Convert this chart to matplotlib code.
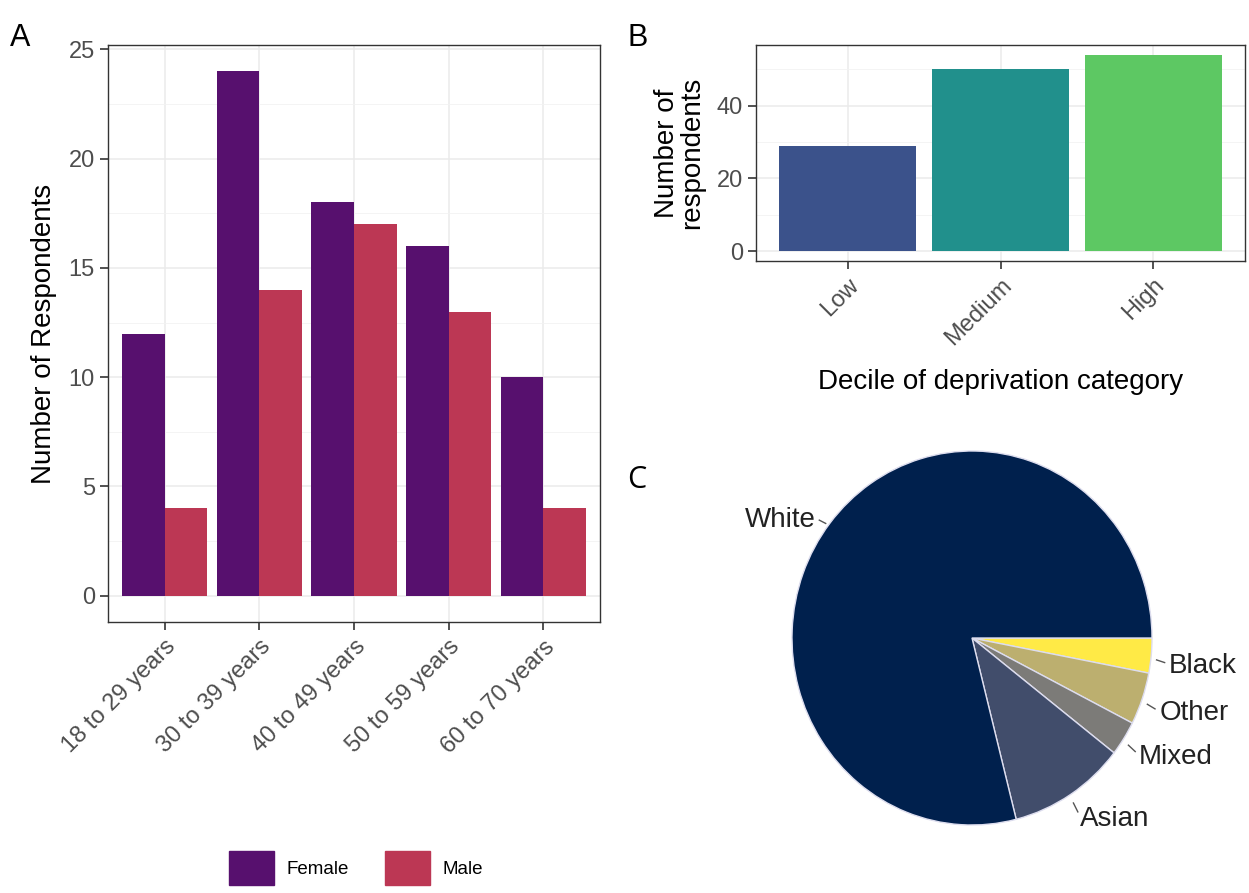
import numpy as np
import matplotlib
matplotlib.use("Agg")
import matplotlib.pyplot as plt
from matplotlib.patches import Patch

plt.rcParams['font.family'] = ['Liberation Sans', 'DejaVu Sans']

# ---- data ----
age_groups = ['18 to 29 years', '30 to 39 years', '40 to 49 years',
              '50 to 59 years', '60 to 70 years']
female = [12, 24, 18, 16, 10]
male = [4, 14, 17, 13, 4]

deciles = ['Low', 'Medium', 'High']
decile_counts = [29, 50, 54]

ethnicity = ['Black', 'Other', 'Mixed', 'Asian', 'White']
eth_counts = [4, 6, 4, 14, 105]

# colours (ggplot viridis family)
c_female, c_male = '#57106E', '#BC3754'
decile_colors = ['#3B528B', '#21908C', '#5DC863']
eth_colors = ['#FFEA46', '#BCAF6F', '#7C7B78', '#414D6B', '#00204D']

W, H = 1249, 893
fig = plt.figure(figsize=(W / 100, H / 100), dpi=100)


def px_axes(l, t, r, b):
    return fig.add_axes([l / W, 1 - b / H, (r - l) / W, (b - t) / H])


def theme_bw(ax):
    ax.set_facecolor('white')
    ax.grid(which='major', color='#EBEBEB', lw=1.1, zorder=0)
    ax.grid(which='minor', color='#F2F2F2', lw=0.6, zorder=0)
    ax.set_axisbelow(True)
    for s in ax.spines.values():
        s.set_color('#333333')
        s.set_linewidth(1.0)
    ax.tick_params(axis='both', which='major', length=6, width=1.2,
                   color='#333333', labelcolor='#4D4D4D', labelsize=17)
    ax.tick_params(axis='x', which='minor', length=0)
    ax.tick_params(axis='y', which='minor', length=0)


# ---- panel A ----
axA = px_axes(108, 45, 600, 622)
x = np.arange(len(age_groups))
axA.bar(x - 0.225, female, width=0.45, color=c_female, zorder=2)
axA.bar(x + 0.225, male, width=0.45, color=c_male, zorder=2)
axA.set_xlim(-0.6, len(age_groups) - 0.4)
axA.set_ylim(-1.2, 25.2)
axA.set_yticks([0, 5, 10, 15, 20, 25])
axA.set_yticks([2.5, 7.5, 12.5, 17.5, 22.5], minor=True)
axA.set_xticks(x)
axA.set_xticklabels(age_groups, rotation=45, ha='right', va='top',
                    rotation_mode='anchor')
axA.set_ylabel('Number of Respondents', fontsize=20, labelpad=8)
theme_bw(axA)
axA.tick_params(axis='x', pad=4)

fig.legend(handles=[Patch(color=c_female, label='Female'),
                    Patch(color=c_male, label='Male')],
           loc='center', bbox_to_anchor=(356 / W, 1 - 868 / H), ncol=2,
           frameon=False, fontsize=13.5, handlelength=2.4, handleheight=2.4,
           handletextpad=0.7, columnspacing=1.9)

# ---- panel B ----
axB = px_axes(756, 45, 1245, 261)
xb = np.arange(len(deciles))
axB.bar(xb, decile_counts, width=0.9, color=decile_colors, zorder=2)
axB.set_xlim(-0.6, len(deciles) - 0.4)
axB.set_ylim(-2.7, 56.7)
axB.set_yticks([0, 20, 40])
axB.set_yticks([10, 30, 50], minor=True)
axB.set_xticks(xb)
axB.set_xticklabels(deciles, rotation=45, ha='right', va='top',
                    rotation_mode='anchor')
axB.set_ylabel('Number of\nrespondents', fontsize=20, labelpad=8,
               linespacing=0.95)
axB.set_xlabel('Decile of deprivation category', fontsize=20, labelpad=14)
theme_bw(axB)

# ---- panel C ----
cx, cy, rx, ry, half = 972, 638, 180, 187, 230
axC = px_axes(cx - half, cy - half, cx + half, cy + half)
wedges, _ = axC.pie(eth_counts, colors=eth_colors, startangle=0,
                    counterclock=False,
                    wedgeprops=dict(edgecolor='#DDDDEE', linewidth=1.0))
axC.set_aspect('auto')
axC.set_xlim(-half / rx, half / rx)
axC.set_ylim(-half / ry, half / ry)
axC.axis('off')
for w, name in zip(wedges, ethnicity):
    ang = np.deg2rad((w.theta1 + w.theta2) / 2)
    ca, sa = np.cos(ang), np.sin(ang)
    axC.plot([1.03 * ca, 1.075 * ca], [1.03 * sa - 0.02, 1.075 * sa - 0.03],
             color='#555555', lw=1.0)
    axC.annotate(name, (1.1 * ca, 1.1 * sa), xytext=(0, -6),
                 textcoords='offset points', fontsize=20,
                 ha='left' if ca > 0 else 'right', va='center',
                 color='#222222')

# ---- panel letters ----
fig.text(10 / W, 1 - 38 / H, 'A', fontsize=22, va='center', ha='left')
fig.text(627 / W, 1 - 38 / H, 'B', fontsize=22, va='center', ha='left')
fig.text(627 / W, 1 - 480 / H, 'C', fontsize=22, va='center', ha='left',
         family=['Open Sans', 'DejaVu Sans'])

fig.savefig('out.png', dpi=100, facecolor='white')
